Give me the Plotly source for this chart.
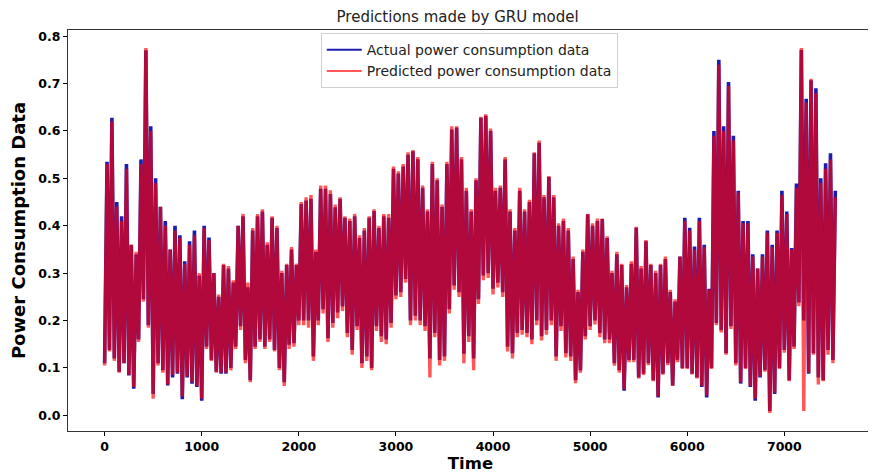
import plotly.graph_objects as go

# Envelope readings of the dense series (lows at t = 0, 50, ..., highs at t = 25, 75, ...)
low_time = list(range(0, 7501, 50))
high_time = list(range(25, 7526, 50))

actual_high = [
    .535, .628, .45, .42, .53, .36, .34, .54, .77, .61,
    .50, .44, .41, .35, .40, .38, .325, .367, .39, .295,
    .40, .375, .30, .25, .317, .31, .28, .40, .42, .27,
    .39, .42, .43, .36, .417, .395, .30, .317, .35, .317,
    .446, .453, .457, .345, .478, .478, .467, .439, .457, .417,
    .41, .42, .374, .39, .417, .431, .395, .42, .417, .52,
    .51, .525, .55, .557, .54, .48, .43, .53, .496, .44,
    .53, .603, .607, .54, .474, .43, .496, .628, .632, .60,
    .474, .48, .54, .43, .39, .474, .43, .45, .553, .575,
    .46, .503, .46, .40, .41, .39, .33, .26, .345, .424,
    .40, .41, .414, .374, .30, .34, .317, .27, .32, .396,
    .31, .367, .317, .30, .317, .33, .26, .24, .335, .417,
    .396, .356, .417, .36, .267, .60, .75, .61, .703, .59,
    .474, .41, .41, .34, .31, .34, .39, .36, .39, .474,
    .43, .353, .489, .771, .668, .707, .69, .50, .532, .553,
    .474,
]
actual_low = [
    .11, .138, .12, .092, .11, .084, .056, .16, .245, .19,
    .045, .11, .095, .063, .08, .088, .034, .08, .067, .06,
    .031, .145, .117, .092, .088, .088, .10, .145, .188, .117,
    .074, .145, .16, .145, .16, .138, .10, .07, .149, .152,
    .20, .20, .20, .124, .20, .224, .163, .195, .217, .23,
    .174, .138, .188, .11, .124, .10, .188, .167, .16, .195,
    .253, .26, .288, .20, .21, .20, .188, .12, .174, .117,
    .124, .224, .274, .26, .13, .167, .12, .245, .295, .30,
    .267, .28, .26, .145, .131, .174, .18, .174, .16, .20,
    .167, .18, .20, .124, .188, .131, .124, .074, .095, .167,
    .188, .20, .174, .16, .16, .11, .095, .052, .117, .117,
    .08, .088, .11, .074, .038, .088, .11, .063, .117, .10,
    .10, .088, .08, .06, .038, .10, .195, .18, .131, .188,
    .11, .067, .10, .06, .031, .08, .095, .009, .045, .10,
    .138, .074, .145, .238, .20, .088, .131, .08, .074, .138,
    .117,
]
predicted_high = [
    .53, .62, .44, .41, .52, .36, .345, .53, .775, .60,
    .49, .44, .40, .35, .39, .375, .32, .36, .38, .30,
    .395, .37, .30, .255, .32, .315, .285, .40, .425, .28,
    .395, .425, .435, .365, .42, .40, .305, .32, .355, .32,
    .45, .46, .465, .35, .485, .485, .475, .445, .46, .42,
    .415, .425, .38, .395, .42, .435, .40, .425, .425, .525,
    .515, .53, .555, .56, .545, .485, .435, .535, .50, .445,
    .535, .61, .61, .545, .48, .435, .50, .63, .635, .605,
    .48, .485, .545, .435, .395, .48, .435, .455, .555, .58,
    .465, .505, .465, .405, .415, .395, .335, .265, .35, .425,
    .405, .415, .415, .378, .305, .345, .32, .275, .325, .398,
    .315, .37, .32, .305, .32, .335, .265, .245, .335, .41,
    .39, .35, .41, .355, .265, .59, .74, .60, .695, .58,
    .47, .405, .405, .335, .31, .335, .385, .355, .385, .465,
    .425, .35, .48, .775, .66, .71, .68, .49, .52, .54,
    .46,
]
predicted_low = [
    .105, .135, .115, .09, .11, .085, .06, .155, .24, .185,
    .035, .105, .09, .065, .085, .09, .04, .082, .07, .062,
    .035, .14, .115, .09, .09, .09, .095, .14, .18, .11,
    .07, .14, .155, .14, .155, .135, .095, .062, .14, .145,
    .19, .19, .185, .115, .19, .215, .155, .185, .205, .22,
    .165, .128, .18, .10, .115, .095, .178, .155, .15, .185,
    .245, .25, .28, .19, .20, .19, .178, .08, .165, .105,
    .115, .215, .265, .25, .11, .155, .095, .235, .285, .29,
    .255, .27, .25, .135, .12, .165, .17, .165, .15, .19,
    .158, .17, .19, .115, .178, .122, .115, .068, .09, .16,
    .18, .192, .165, .152, .152, .105, .09, .055, .112, .112,
    .078, .085, .106, .072, .04, .086, .106, .062, .112, .098,
    .098, .086, .078, .062, .042, .098, .19, .175, .128, .182,
    .105, .07, .098, .062, .035, .082, .092, .005, .048, .098,
    .132, .072, .14, .23, .009, .09, .128, .065, .072, .128,
    .11,
]

x_ticks = [0, 1000, 2000, 3000, 4000, 5000, 6000, 7000]
y_ticks = [0.0, 0.1, 0.2, 0.3, 0.4, 0.5, 0.6, 0.7, 0.8]

ACTUAL_NAME = "Actual power consumption data"
PRED_NAME = "Predicted power consumption data"
ACTUAL_COLOR = "#1c1cb0"
PRED_COLOR = "rgba(255,0,0,0.66)"


def interleave(lows, highs):
    xs, ys = [], []
    for tl, vl, th, vh in zip(low_time, lows, high_time, highs):
        xs += [tl, th]
        ys += [vl, vh]
    return xs, ys


ax, ay = interleave(actual_low, actual_high)
px, py = interleave(predicted_low, predicted_high)

fig = go.Figure()
fig.add_trace(go.Scatter(x=ax, y=ay, mode="lines", name=ACTUAL_NAME, showlegend=False,
                         legendgroup="a", line=dict(color=ACTUAL_COLOR, width=3.6)))
fig.add_trace(go.Scatter(x=px, y=py, mode="lines", name=PRED_NAME, showlegend=False,
                         legendgroup="p", line=dict(color=PRED_COLOR, width=3.4)))
# legend entries drawn with the thinner legend line of the original
fig.add_trace(go.Scatter(x=[None], y=[None], mode="lines", name=ACTUAL_NAME,
                         legendgroup="a", line=dict(color=ACTUAL_COLOR, width=2)))
fig.add_trace(go.Scatter(x=[None], y=[None], mode="lines", name=PRED_NAME,
                         legendgroup="p", line=dict(color=PRED_COLOR, width=2)))

font_family = "DejaVu Sans"
fig.update_layout(
    width=868, height=466,
    margin=dict(l=60, r=3, t=22, b=43, autoexpand=False),
    paper_bgcolor="white", plot_bgcolor="white",
    font=dict(family=font_family, color="black"),
    title=dict(text="Predictions made by GRU model", x=0.518, xanchor="center",
               y=1 - 9 / 466, yanchor="middle",
               font=dict(size=15, color="#222")),
    showlegend=True,
    legend=dict(x=0.314, y=0.992, xanchor="left", yanchor="top",
                bgcolor="white", bordercolor="#d0d0d0", borderwidth=1,
                itemwidth=35,
                font=dict(size=14, color="#222"), tracegroupgap=0),
    xaxis=dict(range=[-377, 7913], tickvals=x_ticks, ticks="outside", ticklen=4,
               tickcolor="black", showgrid=False, zeroline=False, automargin=False,
               showline=True, mirror=True, linecolor="#333", linewidth=1,
               tickfont=dict(size=12.5, weight="bold"),
               title=dict(text="Time", font=dict(size=16.5, weight="bold"), standoff=4)),
    yaxis=dict(range=[-0.033, 0.813], tickvals=y_ticks, tickformat=".1f", ticks="outside",
               ticklen=4, tickcolor="black", showgrid=False, zeroline=False, automargin=False,
               showline=True, mirror=True, linecolor="#333", linewidth=1,
               tickfont=dict(size=12.5, weight="bold"),
               title=dict(text="Power Consumption Data", font=dict(size=18, weight="bold"),
                          standoff=13)),
)

fig.write_html("out.html")
